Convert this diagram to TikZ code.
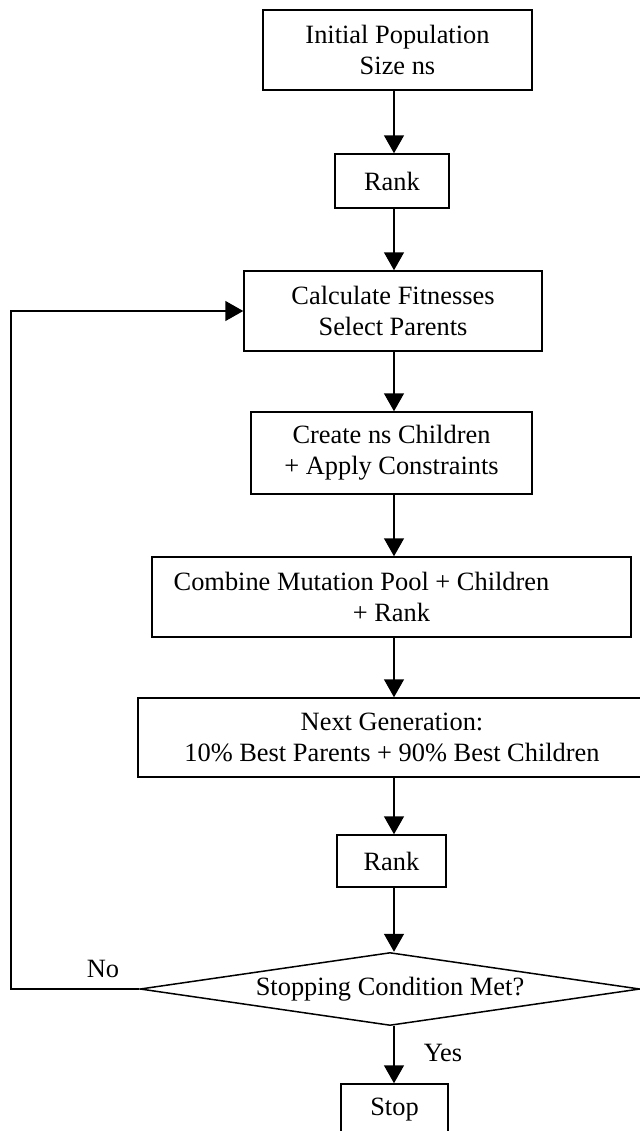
\documentclass[tikz,border=0pt]{standalone}
\usepackage{fontspec}
\setmainfont{Liberation Serif}
\usetikzlibrary{arrows.meta,shapes.geometric}

\begin{document}
\begin{tikzpicture}[x=0.5pt, y=-0.5pt,
    box/.style={draw, line width=0.75pt, inner sep=0pt, align=center,
      font=\fontsize{13.2}{15.5}\selectfont},
    arr/.style={line width=0.75pt, -{Triangle[length=9pt,width=10pt]}},
    lbl/.style={font=\fontsize{13.2}{15.5}\selectfont}]
    \def\px{0.5pt} % one pixel of the original
    \useasboundingbox (0,0) rectangle (640,1131);
    % Casete de proces, de sus in jos
    \node[box, minimum width=269*\px, minimum height=80*\px] (init) at (397.5,50)
      {Initial Population\\Size ns};
    \node[box, minimum width=114*\px, minimum height=54*\px] (rank1) at (392,181) {Rank};
    \node[box, minimum width=298*\px, minimum height=80*\px] (calc) at (393,311)
      {Calculate Fitnesses\\Select Parents};
    \node[box, minimum width=281*\px, minimum height=82*\px] (create) at (391.5,453)
      {Create ns Children\\+ Apply Constraints};
    \node[box, minimum width=479*\px, minimum height=80*\px] (combine) at (391.5,597)
      {Combine Mutation Pool + Children\hspace*{30pt}\\+ Rank};
    \node[box, minimum width=508*\px, minimum height=79*\px] (nextgen) at (392,737.5)
      {Next Generation:\\10\% Best Parents + 90\% Best Children};
    \node[box, minimum width=109*\px, minimum height=52*\px] (rank2) at (391.5,861) {Rank};
    % Decizia
    \node[box, diamond, aspect=6.85, minimum width=500*\px, minimum height=73*\px] (cond)
      at (390,989) {Stopping Condition Met?};
    \node[box, minimum width=107*\px, minimum height=52*\px] (stop) at (394.5,1110) {Stop};
    % Etichete ramuri
    \node[lbl] (nolbl) at (103,969) {No};
    \node[lbl] (yeslbl) at (443,1053) {Yes};
    % Sageti verticale
    \coordinate (ax) at (394,0);
    \draw[arr] (init.south -| ax) -- (rank1.north -| ax);
    \draw[arr] (rank1.south -| ax) -- (calc.north -| ax);
    \draw[arr] (calc.south -| ax) -- (create.north -| ax);
    \draw[arr] (create.south -| ax) -- (combine.north -| ax);
    \draw[arr] (combine.south -| ax) -- (nextgen.north -| ax);
    \draw[arr] (nextgen.south -| ax) -- (rank2.north -| ax);
    \draw[arr] (rank2.south -| ax) -- (cond.north -| ax);
    \draw[arr] (cond.south -| ax) -- (stop.north -| ax);
    % Bucla inapoi
    \coordinate (loop) at (11,311);
    \draw[arr] (cond.west) -| (loop) -- (calc.west);
\end{tikzpicture}
\end{document}
